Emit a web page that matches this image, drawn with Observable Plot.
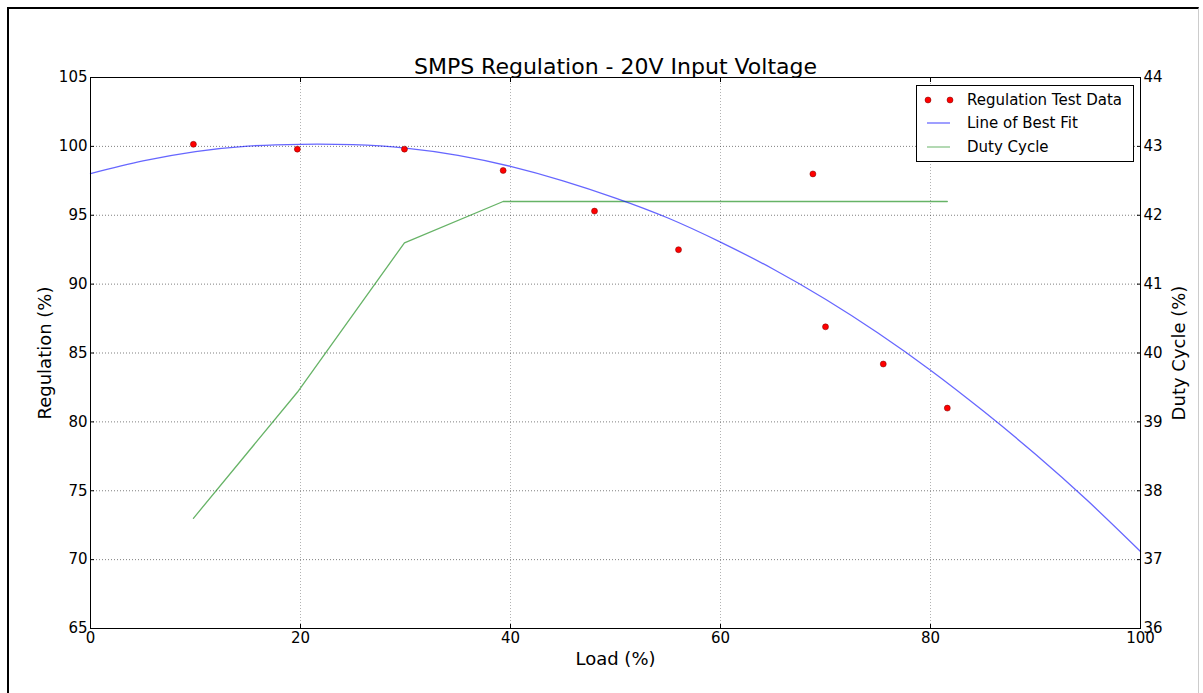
<!DOCTYPE html>
<html>
<head>
<meta charset="utf-8">
<script src="https://cdn.jsdelivr.net/npm/d3@7"></script>
<script src="https://cdn.jsdelivr.net/npm/@observablehq/plot@0.6"></script>
<style>
  html, body { margin: 0; padding: 0; background: #fff; }
  body { font-family: "DejaVu Sans", sans-serif; }
  #wrap { position: relative; width: 1203px; height: 693px; overflow: hidden; background: #fff; }
  #chart { position: absolute; left: 0; top: 0; }
  #border { position: absolute; left: 7px; top: 7px; width: 1192px; height: 700px;
            border-top: 2px solid #000; border-left: 2px solid #000; border-right: 1px solid #ccc; box-sizing: border-box; }
  #legend { position: absolute; left: 916px; top: 85px; width: 218px; height: 77px;
            border: 1px solid #000; background: #fff; box-sizing: border-box; }
  #legend svg { display: block; }
</style>
</head>
<body>
<div id="wrap">
  <div id="border"></div>
  <div id="chart"></div>
  <div id="legend"></div>
</div>
<script>
// ---- data ----
const titleText = "SMPS Regulation - 20V Input Voltage";
const xLabel = "Load (%)";
const yLabel = "Regulation (%)";
const y2Label = "Duty Cycle (%)";

const testLoads = [9.8, 19.7, 29.9, 39.3, 48.0, 56.0, 68.8, 70.0, 75.5, 81.6];
const testRegulation = [100.15, 99.8, 99.8, 98.25, 95.3, 92.5, 98.0, 86.9, 84.2, 81.0];

const fitLoads = [0, 5, 10, 15, 20, 25, 30, 35, 40, 45, 50, 55, 60, 65, 70, 75, 80, 85, 90, 95, 100];
const fitRegulation = [98.03, 98.94, 99.62, 100.02, 100.15, 100.12, 99.88, 99.35, 98.55, 97.5, 96.25, 94.8, 93.05, 91.1, 88.9, 86.45, 83.75, 80.8, 77.65, 74.25, 70.59];

const dutyLoads = [9.8, 19.7, 29.9, 39.3, 48.0, 56.0, 68.8, 70.0, 75.5, 81.6];
const dutyCycle = [37.6, 39.43, 41.6, 42.2, 42.2, 42.2, 42.2, 42.2, 42.2, 42.2];

const xTicks = [0, 20, 40, 60, 80, 100];
const yTicks = [65, 70, 75, 80, 85, 90, 95, 100, 105];
const dutyTicks = [36, 37, 38, 39, 40, 41, 42, 43, 44];

const legendLabels = ["Regulation Test Data", "Line of Best Fit", "Duty Cycle"];

// ---- colours ----
const dotColor = "#ff0000";
const fitColor = "#0000ff";
const dutyColor = "#008000";

// twin axis: map duty cycle onto the regulation scale
const regDomain = [yTicks[0], yTicks[yTicks.length - 1]];
const dutyDomain = [dutyTicks[0], dutyTicks[dutyTicks.length - 1]];
const k = (regDomain[1] - regDomain[0]) / (dutyDomain[1] - dutyDomain[0]);
const dutyToY = d => regDomain[0] + (d - dutyDomain[0]) * k;
const yToDuty = y => dutyDomain[0] + (y - regDomain[0]) / k;

const testData = testLoads.map((x, i) => ({x, y: testRegulation[i]}));
const fitData = fitLoads.map((x, i) => ({x, y: fitRegulation[i]}));
const dutyData = dutyLoads.map((x, i) => ({x, y: dutyToY(dutyCycle[i])}));

const chart = Plot.plot({
  width: 1203,
  height: 693,
  marginLeft: 90,
  marginRight: 63,
  marginTop: 77,
  marginBottom: 65,
  style: {fontFamily: "'DejaVu Sans', sans-serif", fontSize: "15px", color: "#000", background: "transparent"},
  x: {domain: [0, 100]},
  y: {domain: regDomain},
  marks: [
    Plot.gridX(xTicks, {stroke: "#000", strokeOpacity: 0.3, strokeDasharray: "1,2"}),
    Plot.gridY(yTicks, {stroke: "#000", strokeOpacity: 0.5, strokeDasharray: "1,2"}),
    Plot.line(dutyData, {x: "x", y: "y", stroke: dutyColor, strokeOpacity: 0.6, strokeWidth: 1.3}),
    Plot.line(fitData, {x: "x", y: "y", stroke: fitColor, strokeOpacity: 0.6, strokeWidth: 1.3, curve: "natural"}),
    Plot.dot(testData, {x: "x", y: "y", r: 3, fill: dotColor, stroke: "#700", strokeWidth: 0.5}),
    Plot.frame({stroke: "#000", strokeWidth: 1}),
    // inward tick marks on all four sides
    Plot.axisX(xTicks, {anchor: "bottom", tickSize: 4, inset: 4, fill: "none", label: null}),
    Plot.axisX(xTicks, {anchor: "top", tickSize: 4, inset: 4, fill: "none", label: null}),
    Plot.axisY(yTicks, {anchor: "left", tickSize: 4, inset: 4, fill: "none", label: null}),
    Plot.axisY(dutyTicks.map(dutyToY), {anchor: "right", tickSize: 4, inset: 4, fill: "none", label: null}),
    // tick labels
    Plot.axisX(xTicks, {anchor: "bottom", tickSize: 0, tickPadding: 4, fontSize: 15, label: null}),
    Plot.axisY(yTicks, {anchor: "left", tickSize: 0, tickPadding: 3, fontSize: 15, label: null}),
    Plot.axisY(dutyTicks.map(dutyToY), {anchor: "right", tickSize: 0, tickPadding: 3, fontSize: 15, label: null,
      tickFormat: y => String(Math.round(yToDuty(y)))}),
    // title and axis labels
    Plot.text([titleText], {frameAnchor: "top", dy: -4, lineAnchor: "bottom", textAnchor: "middle", fontSize: 22, fill: "#000"}),
    Plot.text([xLabel], {frameAnchor: "bottom", dy: 31, lineAnchor: "middle", textAnchor: "middle", fontSize: 18, fill: "#000"}),
    Plot.text([yLabel], {frameAnchor: "left", dx: -45, rotate: -90, lineAnchor: "middle", textAnchor: "middle", fontSize: 18, fill: "#000"}),
    Plot.text([y2Label], {frameAnchor: "right", dx: 39, rotate: -90, lineAnchor: "middle", textAnchor: "middle", fontSize: 18, fill: "#000"})
  ]
});
document.getElementById("chart").appendChild(chart);

// ---- legend (HTML/SVG overlay) ----
const leg = d3.select("#legend").append("svg").attr("width", 216).attr("height", 75)
  .style("font-family", "'DejaVu Sans', sans-serif").style("font-size", "15px");
const rowsY = [14, 37, 61];
// row 0: two red markers
[11, 33].forEach(cx => leg.append("circle").attr("cx", cx).attr("cy", rowsY[0]).attr("r", 3)
  .attr("fill", dotColor).attr("stroke", "#700").attr("stroke-width", 0.5));
leg.append("line").attr("x1", 10).attr("x2", 33).attr("y1", rowsY[1]).attr("y2", rowsY[1])
  .attr("stroke", fitColor).attr("stroke-opacity", 0.5).attr("stroke-width", 1.5);
leg.append("line").attr("x1", 10).attr("x2", 33).attr("y1", rowsY[2]).attr("y2", rowsY[2])
  .attr("stroke", dutyColor).attr("stroke-opacity", 0.4).attr("stroke-width", 1.5);
legendLabels.forEach((t, i) => leg.append("text").attr("x", 50).attr("y", rowsY[i]).attr("dy", "0.35em")
  .attr("fill", "#000").text(t));
</script>
</body>
</html>
